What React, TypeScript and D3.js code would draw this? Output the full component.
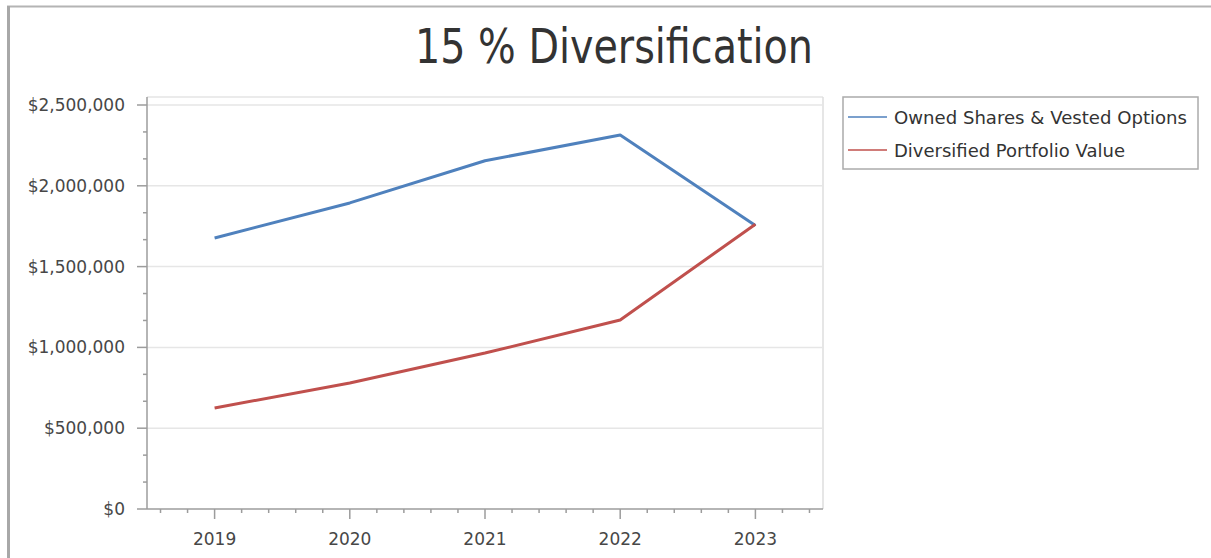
import React from "react";
import * as d3 from "d3";

const title = "15 % Diversification";
const years = ["2019", "2020", "2021", "2022", "2023"];
const ownedShares = [1677000, 1894000, 2155000, 2314000, 1755000];
const diversified = [625000, 780000, 965000, 1170000, 1762000];
const seriesNames = ["Owned Shares & Vested Options", "Diversified Portfolio Value"];
const seriesColors = ["#4F81BD", "#C0504D"];
const yTicks = [0, 500000, 1000000, 1500000, 2000000, 2500000];

const W = 1211;
const H = 558;
const plot = { left: 147, right: 823, top: 97, bottom: 509, gridTop: 105 };
const font = "'DejaVu Sans', Verdana, sans-serif";
const axisColor = "#9c9c9c";
const textColor = "#474747";

export default function App() {
  const x = d3.scaleLinear().domain([-0.5, years.length - 0.5]).range([plot.left, plot.right]);
  const y = d3.scaleLinear().domain([0, 2500000]).range([plot.bottom, plot.gridTop]);
  const line = d3
    .line<number>()
    .x((_, i) => x(i))
    .y((d) => y(d));

  const minorY: number[] = [];
  for (let i = 0; i < yTicks.length - 1; i++) {
    const step = (yTicks[i + 1] - yTicks[i]) / 3;
    minorY.push(yTicks[i] + step, yTicks[i] + 2 * step);
  }
  const minorX: number[] = [];
  for (let k = -2; k <= (years.length - 1) * 5 + 2; k++) {
    if (k % 5 !== 0) minorX.push(k / 5);
  }
  const fmt = (v: number) => "$" + d3.format(",")(v);
  const series = [ownedShares, diversified];

  return (
    <svg
      width={W}
      height={H}
      style={{ position: "absolute", left: 0, top: 0, background: "#fff" }}
      fontFamily={font}
    >
      <rect x={0} y={0} width={W} height={H} fill="#fff" />
      {/* outer frame */}
      <line x1={7} x2={W} y1={6.5} y2={6.5} stroke="#b4b4b4" strokeWidth={2} />
      <line x1={8.5} x2={8.5} y1={6} y2={H} stroke="#a8a8a8" strokeWidth={3} />

      {/* title */}
      <text
        x={614}
        y={63}
        textAnchor="middle"
        fontSize={48}
        fill="#333"
        fontFamily="'DejaVu Sans Condensed', 'DejaVu Sans', sans-serif"
        textLength={398}
        lengthAdjust="spacingAndGlyphs"
      >
        {title}
      </text>

      {/* plot border */}
      <line x1={plot.left} x2={plot.right} y1={plot.top} y2={plot.top} stroke="#e4e4e4" strokeWidth={1.5} />
      <line x1={plot.right} x2={plot.right} y1={plot.top} y2={plot.bottom} stroke="#dedede" strokeWidth={1.5} />

      {/* gridlines */}
      {yTicks
        .filter((t) => t > 0)
        .map((t) => (
          <line key={t} x1={plot.left} x2={plot.right} y1={y(t)} y2={y(t)} stroke="#e6e6e6" strokeWidth={1.5} />
        ))}

      {/* y axis */}
      <line x1={plot.left} x2={plot.left} y1={plot.top} y2={plot.bottom} stroke={axisColor} strokeWidth={1.5} />
      {yTicks.map((t) => (
        <g key={t}>
          <line x1={plot.left - 10} x2={plot.left} y1={y(t)} y2={y(t)} stroke={axisColor} strokeWidth={1.5} />
          <text x={125} y={y(t) + 6} textAnchor="end" fontSize={17} fill={textColor}>
            {fmt(t)}
          </text>
        </g>
      ))}
      {minorY.map((t) => (
        <line key={t} x1={plot.left - 4} x2={plot.left} y1={y(t)} y2={y(t)} stroke={axisColor} strokeWidth={1.5} />
      ))}

      {/* x axis */}
      <line x1={plot.left} x2={plot.right} y1={plot.bottom} y2={plot.bottom} stroke={axisColor} strokeWidth={1.5} />
      {years.map((yr, i) => (
        <g key={yr}>
          <line x1={x(i)} x2={x(i)} y1={plot.bottom} y2={plot.bottom + 10} stroke={axisColor} strokeWidth={1.5} />
          <text x={x(i)} y={545} textAnchor="middle" fontSize={17} fill={textColor}>
            {yr}
          </text>
        </g>
      ))}
      {minorX.map((v) => (
        <line key={v} x1={x(v)} x2={x(v)} y1={plot.bottom} y2={plot.bottom + 4} stroke={axisColor} strokeWidth={1.5} />
      ))}

      {/* series */}
      {series.map((s, i) => (
        <path
          key={i}
          d={line(s) || ""}
          fill="none"
          stroke={seriesColors[i]}
          strokeWidth={3}
          strokeLinejoin="round"
        />
      ))}

      {/* legend */}
      <rect x={843} y={97} width={355} height={72} fill="#fff" stroke="#ababab" strokeWidth={1.5} />
      {seriesNames.map((n, i) => (
        <g key={n}>
          <line x1={848} x2={887} y1={117 + i * 33} y2={117 + i * 33} stroke={seriesColors[i]} strokeWidth={1.5} />
          <text
            x={894}
            y={124 + i * 33}
            fontSize={17}
            fill="#333"
            textLength={i === 0 ? 293 : 231}
            lengthAdjust="spacingAndGlyphs"
          >
            {n}
          </text>
        </g>
      ))}
    </svg>
  );
}
